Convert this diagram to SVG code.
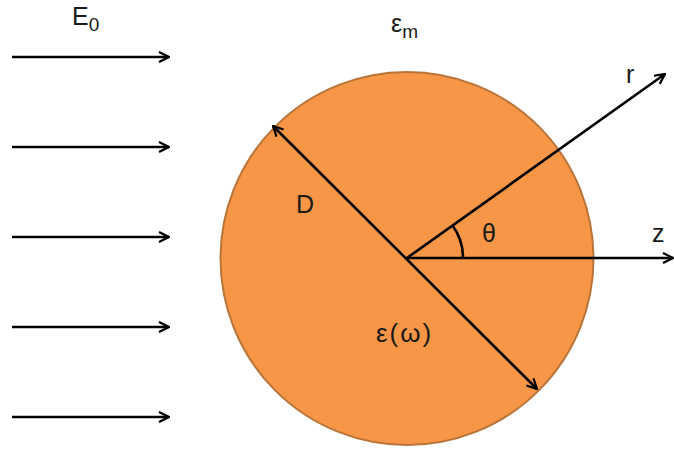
<svg xmlns="http://www.w3.org/2000/svg" width="674" height="453" viewBox="0 0 674 453">
<style>
text{font-family:"Liberation Sans","DejaVu Sans",sans-serif;fill:#1a1a1a}
.lbl{font-size:25px}
.sub{font-size:19px}
.ln{stroke:#000;stroke-width:2.6;fill:none}
</style>
<defs>
<marker id="ah" viewBox="0 0 12 12" refX="11" refY="6" markerWidth="12" markerHeight="12" markerUnits="userSpaceOnUse" orient="auto-start-reverse">
<path d="M1,1 L11,6 L1,11" fill="none" stroke="#000" stroke-width="2.2"/>
</marker>
</defs>
<rect width="674" height="453" fill="#fff"/>
<g id="sphere">
<circle cx="407" cy="258.5" r="186.5" fill="#F79646" stroke="#B9743A" stroke-width="2"/>
</g>
<g id="connectors">
<line class="ln" x1="12" y1="57" x2="169" y2="57" marker-end="url(#ah)"/>
<line class="ln" x1="12" y1="147" x2="169" y2="147" marker-end="url(#ah)"/>
<line class="ln" x1="12" y1="237" x2="169" y2="237" marker-end="url(#ah)"/>
<line class="ln" x1="12" y1="327" x2="169" y2="327" marker-end="url(#ah)"/>
<line class="ln" x1="12" y1="417" x2="169" y2="417" marker-end="url(#ah)"/>
<line class="ln" x1="273" y1="126" x2="537" y2="389" marker-start="url(#ah)" marker-end="url(#ah)"/>
<line class="ln" x1="407" y1="258" x2="665" y2="74" marker-end="url(#ah)"/>
<line class="ln" x1="407" y1="258" x2="673" y2="258" marker-end="url(#ah)"/>
<path class="ln" d="M452.6,225.5 A56,56 0 0 1 463,258" stroke-width="2"/>
</g>
<g id="labels">
<text class="lbl" x="72" y="25">E<tspan class="sub" dy="6">0</tspan></text>
<text class="lbl" x="391" y="32">ε<tspan class="sub" dy="6">m</tspan></text>
<text class="lbl" x="296" y="213">D</text>
<text class="lbl" x="626" y="83">r</text>
<text class="lbl" x="482" y="242">θ</text>
<text class="lbl" x="652" y="242">z</text>
<text class="lbl" x="376" y="342" style="font-size:26px;letter-spacing:2px">ε(ω)</text>
</g>
</svg>
